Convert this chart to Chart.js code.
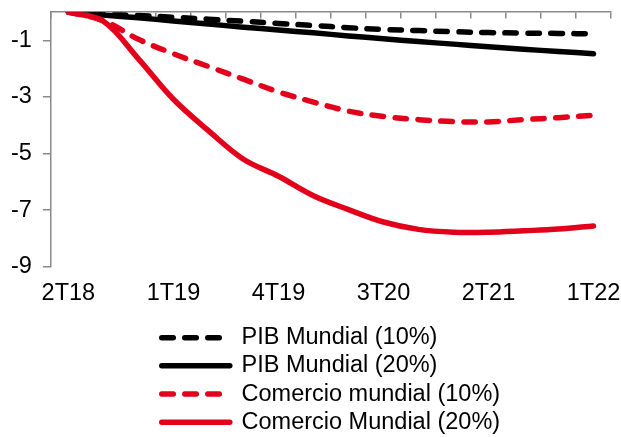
<!DOCTYPE html>
<html>
<head>
<meta charset="utf-8">
<script src="https://cdn.jsdelivr.net/npm/chart.js@4/dist/chart.umd.min.js"></script>
<style>
  html, body { margin: 0; padding: 0; background: #fff; }
  canvas { display: block; }
</style>
</head>
<body>
<canvas id="chart" width="621" height="437"></canvas>
<script>
// Quarterly horizon of the scenario (2T18 .. 1T22)
const quarters = ['2T18','3T18','4T18','1T19','2T19','3T19','4T19','1T20','2T20','3T20','4T20','1T21','2T21','3T21','4T21','1T22'];
// Quarters that carry a label on the axis
const labelledQuarters = ['2T18','1T19','4T19','3T20','2T21','1T22'];
// Y-axis tick values (percentage deviation)
const yTickValues = [-9, -7, -5, -3, -1];

// Series: deviation from baseline, %
const pibMundial10   = [0, -0.06, -0.12, -0.18, -0.25, -0.32, -0.40, -0.47, -0.55, -0.61, -0.65, -0.69, -0.72, -0.74, -0.75, -0.77];
const pibMundial20   = [0, -0.10, -0.20, -0.31, -0.42, -0.53, -0.63, -0.73, -0.84, -0.94, -1.04, -1.13, -1.22, -1.31, -1.39, -1.47];
const comercio10     = [0, -0.30, -0.96, -1.47, -1.92, -2.37, -2.82, -3.18, -3.50, -3.69, -3.80, -3.87, -3.88, -3.80, -3.73, -3.65];
const comercio20     = [0, -0.32, -1.65, -3.08, -4.19, -5.20, -5.80, -6.49, -6.98, -7.42, -7.68, -7.78, -7.78, -7.73, -7.67, -7.56];

const RED = '#E2001A';
const BLACK = '#000000';
const AXIS_GREY = '#898989';
const FONT = "'Liberation Sans', Arial, sans-serif";
const FONT_SIZE = 23.5;
const DASH = [11.5, 11.5];

Chart.defaults.font.family = FONT;
Chart.defaults.color = '#000';

// Keep legend rows left-aligned inside one centred block
const legendRowsAligned = {
  id: 'legendRowsAligned',
  afterUpdate(chart) {
    const lg = chart.legend;
    if (!lg || !lg.lineWidths || !lg.lineWidths.length) return;
    const widest = Math.max(...lg.lineWidths);
    lg.lineWidths = lg.lineWidths.map(() => widest);
  }
};

const lineStyle = {
  pointRadius: 0,
  pointHoverRadius: 0,
  borderWidth: 5.5,
  borderCapStyle: 'round',
  borderJoinStyle: 'round',
  tension: 0.35,
  fill: false
};

new Chart(document.getElementById('chart'), {
  type: 'line',
  data: {
    labels: quarters,
    datasets: [
      { ...lineStyle, label: 'PIB Mundial (10%)', data: pibMundial10, borderColor: BLACK, backgroundColor: BLACK, borderDash: DASH, order: 3 },
      { ...lineStyle, label: 'PIB Mundial (20%)', data: pibMundial20, borderColor: BLACK, backgroundColor: BLACK, order: 2 },
      { ...lineStyle, label: 'Comercio mundial (10%)', data: comercio10, borderColor: RED, backgroundColor: RED, borderDash: DASH, order: 1 },
      { ...lineStyle, label: 'Comercio Mundial (20%)', data: comercio20, borderColor: RED, backgroundColor: RED, order: 0 }
    ]
  },
  options: {
    responsive: false,
    animation: false,
    devicePixelRatio: 1,
    layout: { padding: { top: 11.7, left: 0, right: 10, bottom: -7 } },
    plugins: {
      tooltip: { enabled: false },
      legend: {
        position: 'bottom',
        fullSize: false,
        align: 'center',
        labels: {
          usePointStyle: true,
          pointStyle: 'line',
          pointStyleWidth: 68,
          padding: 4.7,
          color: '#000',
          font: { family: FONT, size: FONT_SIZE },
          sort: (a, b) => a.datasetIndex - b.datasetIndex,
          generateLabels(chart) {
            const items = Chart.defaults.plugins.legend.labels.generateLabels(chart);
            return items.map(item => {
              const ds = chart.data.datasets[item.datasetIndex];
              return {
                ...item,
                lineDash: ds.borderDash || [],
                lineCap: 'round',
                lineWidth: ds.borderWidth,
                strokeStyle: ds.borderColor,
                fillStyle: ds.borderColor
              };
            });
          }
        }
      }
    },
    scales: {
      x: {
        type: 'category',
        position: 'bottom',
        offset: true,
        grid: { display: false, drawTicks: false },
        border: { display: false },
        ticks: {
          autoSkip: false,
          maxRotation: 0,
          minRotation: 0,
          padding: 0,
          color: '#000',
          font: { family: FONT, size: FONT_SIZE, lineHeight: 2.32 },
          callback(value, index) {
            const q = quarters[index];
            return labelledQuarters.includes(q) ? q : '';
          }
        }
      },
      xTop: {
        type: 'category',
        axis: 'x',
        labels: quarters,
        position: { y: 0 },
        offset: true,
        grid: { drawOnChartArea: false, drawTicks: true, tickLength: 6, color: AXIS_GREY, lineWidth: 1.5, offset: true },
        border: { display: true, color: AXIS_GREY, width: 1.5 },
        ticks: { display: false }
      },
      y: {
        position: 'left',
        min: -9,
        max: 0,
        afterBuildTicks(scale) {
          scale.ticks = yTickValues.map(v => ({ value: v }));
        },
        grid: { drawOnChartArea: false, drawTicks: true, tickLength: 8, color: AXIS_GREY, lineWidth: 1.5 },
        border: { display: true, color: AXIS_GREY, width: 1.5 },
        ticks: {
          padding: 11,
          color: '#000',
          font: { family: FONT, size: FONT_SIZE, lineHeight: 0.1 }
        }
      }
    }
  },
  plugins: [legendRowsAligned]
});
</script>
</body>
</html>
